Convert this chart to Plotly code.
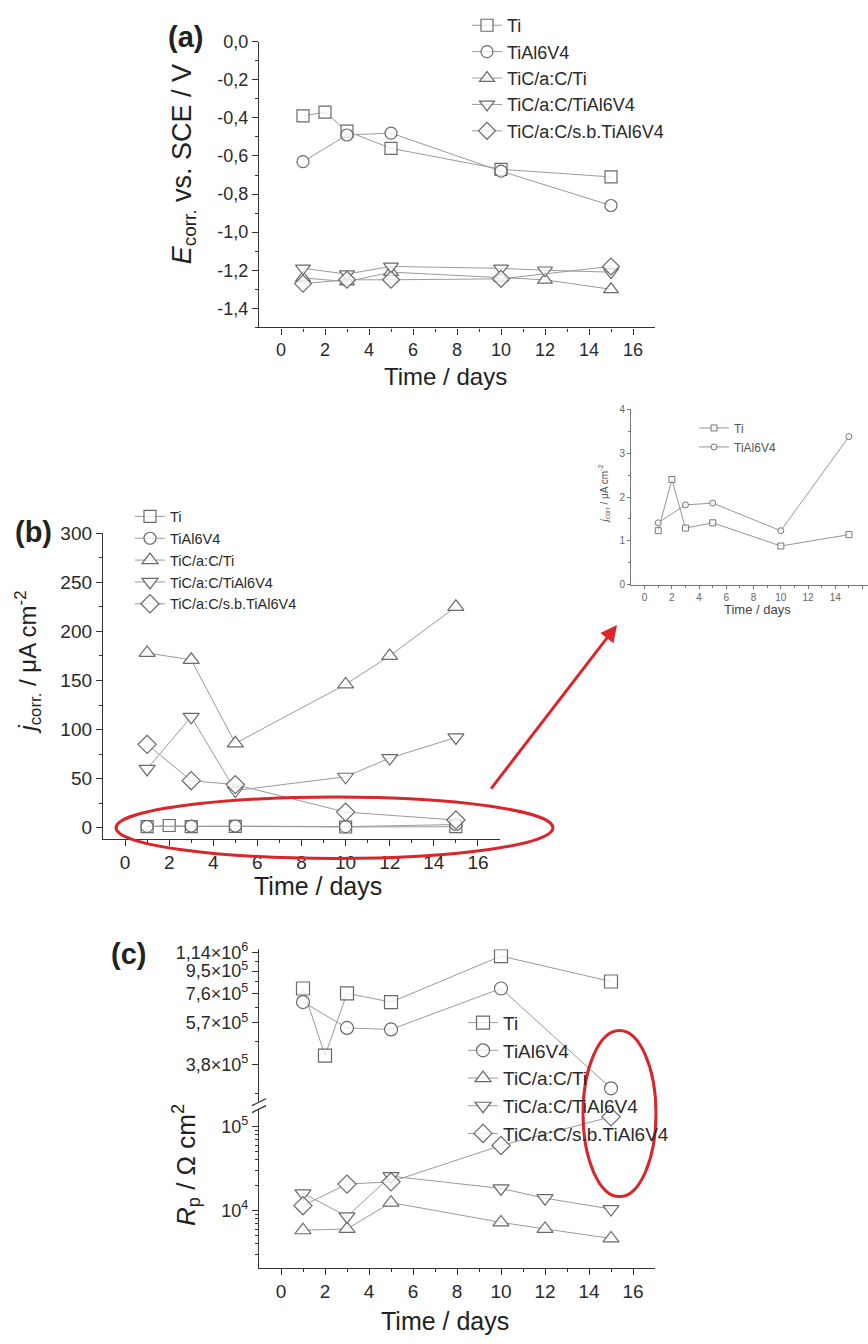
import plotly.graph_objects as go

W, H = 868, 1344
def px(x): return x / W
def py(y): return 1 - y / H

FONT = "Liberation Sans, Arial, sans-serif"

names = ["Ti", "TiAl6V4", "TiC/a:C/Ti", "TiC/a:C/TiAl6V4", "TiC/a:C/s.b.TiAl6V4"]
symbols = ["square", "circle", "triangle-up", "triangle-down", "diamond"]

# ---- data (a): E_corr vs SCE / V
days_ti = [1, 2, 3, 5, 10, 15]
days_tial = [1, 3, 5, 10, 15]
days_coat = [1, 3, 5, 10, 12, 15]
days_sb = [1, 3, 5, 10, 15]

a_ti = [-0.39, -0.37, -0.47, -0.56, -0.67, -0.71]
a_tial = [-0.63, -0.49, -0.48, -0.68, -0.86]
a_tic_ti = [-1.24, -1.26, -1.21, -1.24, -1.25, -1.30]
a_tic_tial = [-1.19, -1.22, -1.18, -1.19, -1.20, -1.21]
a_tic_sb = [-1.27, -1.25, -1.25, -1.245, -1.18]

# ---- data (b): j_corr / uA cm-2
b_ti = [1.23, 2.40, 1.29, 1.41, 0.88, 1.14]
b_tial = [1.41, 1.82, 1.86, 1.23, 3.38]
b_tic_ti = [178, 171, 86, 146, 175, 225]
b_tic_tial = [60, 113, 38, 52, 71, 92]
b_tic_sb = [85, 48, 44, 16, 8]

# ---- data (c): Rp / Ohm cm2
c_ti = [8.0e5, 4.14e5, 7.63e5, 7.0e5, 1.10e6, 8.57e5]
c_tial = [7.0e5, 5.43e5, 5.35e5, 8.0e5, 3.0e5]
c_tic_ti = [5820, 6030, 12400, 7220, 6030, 4650]
c_tic_tial = [16000, 8500, 25600, 18300, 14000, 10400]
c_tic_sb = [11400, 20600, 21900, 59300, 130000]

# ---- tick labels
x_ticks = [0, 2, 4, 6, 8, 10, 12, 14, 16]
x_minor = [1, 3, 5, 7, 9, 11, 13, 15]
a_yticks = [0.0, -0.2, -0.4, -0.6, -0.8, -1.0, -1.2, -1.4]
a_ytext = ["0,0", "-0,2", "-0,4", "-0,6", "-0,8", "-1,0", "-1,2", "-1,4"]
b_yticks = [0, 50, 100, 150, 200, 250, 300]
c_up_ticks = [3.8e5, 5.7e5, 7.6e5, 9.5e5, 1.14e6]
c_up_text = ["3,8\u00d710<sup>5</sup>", "5,7\u00d710<sup>5</sup>", "7,6\u00d710<sup>5</sup>",
             "9,5\u00d710<sup>5</sup>", "1,14\u00d710<sup>6</sup>"]
c_up_minor = [2.85e5, 4.75e5, 6.65e5, 8.55e5, 1.045e6]
c_lo_ticks = [1e4, 1e5]
c_lo_text = ["10<sup>4</sup>", "10<sup>5</sup>"]
c_lo_minor = [m * 10 ** k for k in (3, 4) for m in range(2, 10)]
i_yticks = [0, 1, 2, 3, 4]

LINE_C = "#9a9a9a"
MK_C = "#6a6a6a"

fig = go.Figure()

def add(x, y, i, xa, ya, leg, size, show=True, lw=1.0, mlw=1.2, lc=LINE_C, mc=MK_C):
    fig.add_trace(go.Scatter(
        x=x, y=y, name=names[i], mode="lines+markers",
        xaxis=xa, yaxis=ya, legend=leg, showlegend=show,
        line=dict(color=lc, width=lw),
        marker=dict(symbol=symbols[i], size=size, color="rgba(255,255,255,0.75)",
                    line=dict(color=mc, width=mlw)),
    ))

# (a)
add(days_ti, a_ti, 0, "x", "y", "legend", 12)
add(days_tial, a_tial, 1, "x", "y", "legend", 12)
add(days_coat, a_tic_ti, 2, "x", "y", "legend", 13)
add(days_coat, a_tic_tial, 3, "x", "y", "legend", 13)
add(days_sb, a_tic_sb, 4, "x", "y", "legend", 13)
# (b)
add(days_ti, b_ti, 0, "x2", "y2", "legend2", 12)
add(days_tial, b_tial, 1, "x2", "y2", "legend2", 12)
add(days_coat, b_tic_ti, 2, "x2", "y2", "legend2", 14)
add(days_coat, b_tic_tial, 3, "x2", "y2", "legend2", 14)
add(days_sb, b_tic_sb, 4, "x2", "y2", "legend2", 14)
# (c)
add(days_ti, c_ti, 0, "x3", "y3", "legend3", 13)
add(days_tial, c_tial, 1, "x3", "y3", "legend3", 13)
add(days_coat, c_tic_ti, 2, "x3", "y4", "legend3", 14)
add(days_coat, c_tic_tial, 3, "x3", "y4", "legend3", 14)
add(days_sb, c_tic_sb, 4, "x3", "y4", "legend3", 14)
# inset
add(days_ti, b_ti, 0, "x4", "y5", "legend4", 6, lw=0.9, mlw=1.0, lc="#8a8a8a", mc="#777777")
add(days_tial, b_tial, 1, "x4", "y5", "legend4", 6, lw=0.9, mlw=1.0, lc="#8a8a8a", mc="#777777")

def axstyle(size, color="#333333", lw=1.3, tl=6):
    return dict(showline=True, linecolor=color, linewidth=lw, ticks="outside", ticklen=tl,
                tickwidth=1.2, tickcolor=color, showgrid=False, zeroline=False,
                tickfont=dict(family=FONT, size=size, color="#2a2a2a"))

XR = [-1, 17]
lay = {}
# (a)
lay["xaxis"] = dict(domain=[px(259), px(655)], range=XR, anchor="y", tickmode="array",
                    tickvals=x_ticks, minor=dict(tickvals=x_minor, ticks="outside", ticklen=3, tickcolor="#333"),
                    **axstyle(18))
lay["yaxis"] = dict(domain=[py(321), py(32)], range=[-1.5, 0.0], anchor="x", tickmode="array",
                    tickvals=a_yticks, ticktext=a_ytext,
                    minor=dict(tickvals=[-0.1, -0.3, -0.5, -0.7, -0.9, -1.1, -1.3, -1.5], ticks="outside",
                               ticklen=3, tickcolor="#333"),
                    **axstyle(18))
# (b)
lay["xaxis2"] = dict(domain=[px(103), px(500)], range=XR, anchor="y2", tickmode="array",
                     tickvals=x_ticks, minor=dict(tickvals=x_minor, ticks="outside", ticklen=3, tickcolor="#333"),
                     **axstyle(19))
lay["yaxis2"] = dict(domain=[py(838), py(529)], range=[-11, 300], anchor="x2", tickmode="array",
                     tickvals=b_yticks,
                     minor=dict(tickvals=[25, 75, 125, 175, 225, 275], ticks="outside", ticklen=3, tickcolor="#333"),
                     **axstyle(19))
# (c)
lay["xaxis3"] = dict(domain=[px(259), px(655)], range=XR, anchor="y4", tickmode="array",
                     tickvals=x_ticks, minor=dict(tickvals=x_minor, ticks="outside", ticklen=3, tickcolor="#333"),
                     **axstyle(19))
lay["yaxis3"] = dict(domain=[py(1104), py(950)], type="log", range=[5.420, 6.070], anchor="x3",
                     tickmode="array", tickvals=c_up_ticks, ticktext=c_up_text,
                     minor=dict(tickvals=c_up_minor, ticks="outside", ticklen=3, tickcolor="#333"),
                     **axstyle(18))
lay["yaxis4"] = dict(domain=[py(1272), py(1112)], type="log", range=[3.318, 5.2], anchor="x3",
                     tickmode="array", tickvals=c_lo_ticks, ticktext=c_lo_text,
                     minor=dict(tickvals=c_lo_minor, ticks="outside", ticklen=3, tickcolor="#333"),
                     **axstyle(18))
# inset
lay["xaxis4"] = dict(domain=[px(631), 1.0], range=[-1, 16.4], anchor="y5", tickmode="array",
                     tickvals=x_ticks, minor=dict(tickvals=x_minor, ticks="outside", ticklen=2, tickcolor="#777"),
                     **axstyle(10, color="#777777", lw=1.0, tl=3))
lay["yaxis5"] = dict(domain=[py(581), py(404)], range=[0, 4], anchor="x4", tickmode="array",
                     tickvals=i_yticks,
                     minor=dict(tickvals=[0.5, 1.5, 2.5, 3.5], ticks="outside", ticklen=2, tickcolor="#777"),
                     **axstyle(10, color="#777777", lw=1.0, tl=3))
lay["xaxis4"]["tickfont"]["color"] = "#666"
lay["yaxis5"]["tickfont"]["color"] = "#666"

def legend(x, y, size, color="#2a2a2a"):
    return dict(x=px(x), y=py(y), xanchor="left", yanchor="top", bgcolor="rgba(0,0,0,0)",
                font=dict(family=FONT, size=size, color=color), tracegroupgap=0,
                traceorder="normal", itemsizing="trace")

fig.update_layout(
    width=W, height=H, margin=dict(l=0, r=0, t=0, b=0), autosize=False,
    paper_bgcolor="white", plot_bgcolor="white",
    legend=legend(467, -3, 18),
    legend2=legend(130, 496, 14.5),
    legend3=legend(463, 1005, 19),
    legend4=legend(694, 408, 12, color="#555"),
    **lay,
)

def ann(text, x, y, size, angle=0, bold=False, color="#222"):
    if bold:
        text = "<b>" + text + "</b>"
    fig.add_annotation(text=text, x=px(x), y=py(y), xref="paper", yref="paper",
                       showarrow=False, textangle=angle, xanchor="center", yanchor="middle",
                       font=dict(family=FONT, size=size, color=color))

ann("(a)", 185, 27, 29, bold=True)
ann("(b)", 33, 528, 29, bold=True)
ann("(c)", 128, 955, 29, bold=True)
ann("<i>E</i><sub>corr.</sub> vs. SCE / V", 184, 156, 27, angle=-90)
ann("Time / days", 445, 371, 24)
ann("<i>j</i><sub>corr.</sub> / \u03bcA cm<sup>-2</sup>", 28, 660, 24, angle=-90)
ann("Time / days", 318, 886, 25)
ann("<i>R</i><sub>p</sub> / \u03a9 cm<sup>2</sup>", 186, 1168, 26, angle=-90)
ann("Time / days", 445, 1326, 25)
ann("<i>j</i><sub>corr</sub> / \u03bcA cm<sup>-2</sup>", 604, 490, 10, angle=-90, color="#555")
ann("Time / days", 757, 606, 13, color="#444")

# red highlight ellipses and arrow
RED = "#d8262b"
fig.add_shape(type="circle", xref="paper", yref="paper", x0=px(116), x1=px(553), y0=py(796), y1=py(858),
              line=dict(color=RED, width=3))
fig.add_shape(type="circle", xref="paper", yref="paper", x0=px(583), x1=px(656), y0=py(1032), y1=py(1200),
              line=dict(color=RED, width=3))
fig.add_annotation(x=px(617), y=py(622), xref="paper", yref="paper", ax=-127, ay=165,
                   showarrow=True, arrowhead=2, arrowsize=1.1, arrowwidth=3, arrowcolor=RED, text="")

# axis break marks on (c)
for y0 in (1104, 1111):
    fig.add_shape(type="line", xref="paper", yref="paper", x0=px(252), x1=px(266),
                  y0=py(y0 + 4), y1=py(y0 - 3), line=dict(color="#333", width=1.3))

fig.write_html("out.html")
